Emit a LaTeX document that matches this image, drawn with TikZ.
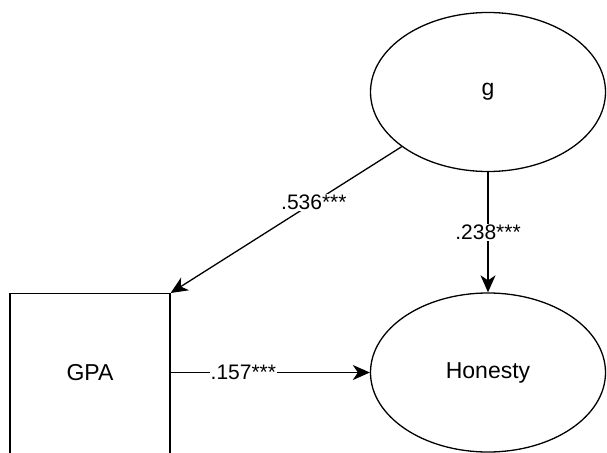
\documentclass[tikz,border=0pt]{standalone}
\usepackage{fontspec}
\setmainfont{Liberation Sans}
\usetikzlibrary{arrows.meta,shapes.geometric}
\begin{document}
\begin{tikzpicture}[x=1pt,y=-1pt,
  every node/.style={font=\fontsize{23}{27}\selectfont},
  latent/.style={draw,ellipse,line width=1.3pt,minimum width=235pt,minimum height=159pt,inner sep=0pt},
  observed/.style={draw,rectangle,line width=1.3pt,minimum width=160pt,minimum height=170pt,inner sep=0pt,anchor=north},
  path/.style={line width=1.3pt,-{Stealth[length=17pt,width=15pt,inset=5pt]}},
  coef/.style={fill=white,inner sep=1pt,font=\fontsize{21}{25}\selectfont}]
\useasboundingbox (0,0) rectangle (607,452);
\clip (0,0) rectangle (607,452);
\node[latent] (g) at (488,92) {g};
\node[latent] (hon) at (488,372.5) {Honesty};
\node[observed] (gpa) at (90,293) {};
\node (gpatext) at (90,372.5) {GPA};
\draw[path] (g) -- (gpa.north east) node[coef,pos=0.38] {.536***};
\draw[path] (g.south) -- (hon.north) node[coef,pos=0.5] {.238***};
\draw[path] (gpa.east |- hon.west) -- (hon.west) node[coef,pos=0.365] {.157***};
\end{tikzpicture}
\end{document}
